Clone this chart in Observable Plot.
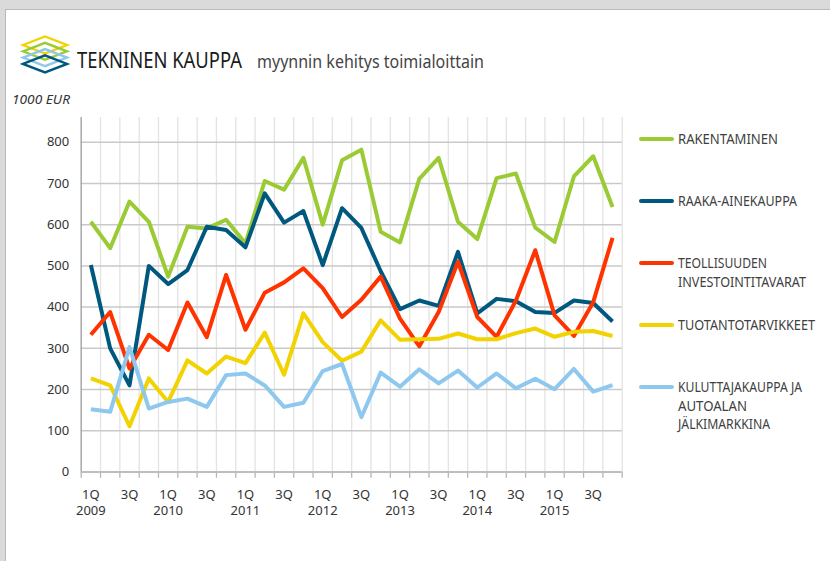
<!DOCTYPE html>
<html><head><meta charset="utf-8">
<script src="https://cdn.jsdelivr.net/npm/d3@7"></script>
<script src="https://cdn.jsdelivr.net/npm/@observablehq/plot@0.6"></script>
<style>
html,body{margin:0;padding:0;}
body{width:830px;height:561px;background:#dadada;position:relative;overflow:hidden;font-family:"Noto Sans",sans-serif;}
#panel{position:absolute;left:5px;top:9px;width:830px;height:560px;background:#fff;border:1px solid #b8b8b8;box-sizing:border-box;}
#chart{position:absolute;left:0;top:0;}
#overlay{position:absolute;left:0;top:0;}
</style></head><body>
<div id="panel"></div>
<div id="chart"></div>
<svg id="overlay" width="830" height="561" xmlns="http://www.w3.org/2000/svg"></svg>
<script>
// ---- data ----
const years = [2009, 2010, 2011, 2012, 2013, 2014, 2015];
const quarterNames = ["1Q", "2Q", "3Q", "4Q"];
const seriesNames = ["RAKENTAMINEN", "RAAKA-AINEKAUPPA", "TEOLLISUUDEN INVESTOINTITAVARAT", "TUOTANTOTARVIKKEET", "KULUTTAJAKAUPPA JA AUTOALAN JÄLKIMARKKINA"];
const legendLines = [["RAKENTAMINEN"], ["RAAKA-AINEKAUPPA"], ["TEOLLISUUDEN", "INVESTOINTITAVARAT"], ["TUOTANTOTARVIKKEET"], ["KULUTTAJAKAUPPA JA", "AUTOALAN", "JÄLKIMARKKINA"]];
const seriesColors = ["#9bcb34", "#00587f", "#ff3300", "#f2d200", "#8ec8ee"];
const rakentaminen = [607, 543, 656, 607, 474, 595, 591, 612, 555, 706, 685, 762, 600, 756, 782, 583, 557, 711, 762, 607, 565, 713, 724, 593, 558, 717, 766, 643];
const raakaAinekauppa = [502, 300, 210, 500, 456, 490, 595, 587, 545, 676, 605, 633, 502, 640, 592, 487, 395, 416, 403, 534, 385, 420, 414, 388, 386, 416, 410, 365];
const teollisuudenInvestointitavarat = [333, 388, 251, 333, 296, 411, 327, 478, 345, 435, 460, 494, 446, 376, 418, 474, 372, 305, 388, 510, 376, 328, 416, 538, 380, 330, 412, 568];
const tuotantotarvikkeet = [227, 210, 111, 227, 170, 271, 239, 280, 264, 338, 236, 385, 315, 270, 292, 368, 321, 322, 323, 336, 322, 322, 337, 348, 328, 340, 342, 330];
const kuluttajakauppa = [152, 146, 303, 154, 170, 178, 158, 235, 239, 210, 158, 168, 245, 262, 133, 241, 207, 249, 215, 246, 205, 239, 203, 226, 201, 250, 195, 211];
const yTicks = [0, 100, 200, 300, 400, 500, 600, 700, 800];
const yUnit = "1000 EUR";
const titleMain = "TEKNINEN KAUPPA";
const titleSub = "myynnin kehitys toimialoittain";

// ---- build table ----
const allSeries = [rakentaminen, raakaAinekauppa, teollisuudenInvestointitavarat, tuotantotarvikkeet, kuluttajakauppa];
const quarters = years.flatMap(y => quarterNames.map(q => ({year: y, q})));
const rows = [];
allSeries.forEach((vals, s) => vals.forEach((v, i) => rows.push({i, series: seriesNames[s], value: v})));
const xLabels = quarters.map((d, i) => ({i, label: d.q === "1Q" ? `${d.q}\n${d.year}` : d.q === "3Q" ? d.q : null})).filter(d => d.label);
const boundaries = d3.range(quarters.length + 1).map(k => k - 0.5);

const fontFam = "'Noto Sans', sans-serif";
const chart = Plot.plot({
  width: 830, height: 561,
  marginLeft: 80.7, marginRight: 208.3, marginTop: 117, marginBottom: 89.5,
  style: {fontFamily: fontFam, fontSize: "13px", background: "transparent", color: "#333"},
  x: {type: "linear", domain: [-0.5, quarters.length - 0.5], axis: null},
  y: {domain: [0, 860], axis: null},
  color: {domain: seriesNames, range: seriesColors},
  marks: [
    Plot.ruleX(boundaries.slice(1), {x: d => d, y1: 0, y2: 860, stroke: "#e3e3e3", strokeWidth: 1.3}),
    Plot.ruleY(yTicks.slice(1), {y: d => d, stroke: "#c9c9c9", strokeWidth: 1.5}),
    Plot.ruleX(boundaries, {x: d => d, y1: 0, y2: -15, stroke: "#b5b5b5", strokeWidth: 1.3}),
    Plot.ruleX([boundaries[0]], {x: d => d, y1: 0, y2: 860, stroke: "#a8a8a8", strokeWidth: 1.5}),
    Plot.ruleY([0], {y: d => d, stroke: "#bdbdbd", strokeWidth: 2}),
    Plot.line(rows, {x: "i", y: "value", z: "series", stroke: "series", strokeWidth: 4, strokeLinejoin: "round", strokeLinecap: "butt"}),
    Plot.axisY({ticks: yTicks, tickSize: 0, tickPadding: 12, label: null, fill: "#333", fontSize: 13}),
    Plot.text(xLabels, {x: "i", frameAnchor: "bottom", text: "label", dy: 15, lineAnchor: "top", lineHeight: 1.25, fontSize: 13, fill: "#333"})
  ]
});
document.getElementById("chart").appendChild(chart);

// ---- header, unit label, legend ----
const ov = d3.select("#overlay");
const logoColors = ["#f2d200", "#9bcb34", "#8ec8ee", "#00587f"];
logoColors.forEach((c, k) => {
  const cy = 45 + k * 6.3, hw = 22, hh = 8.5, cx = 45;
  ov.append("polygon")
    .attr("points", `${cx - hw},${cy} ${cx},${cy - hh} ${cx + hw},${cy} ${cx},${cy + hh}`)
    .attr("fill", "none").attr("stroke", c).attr("stroke-width", 2.4).attr("stroke-linejoin", "miter");
});
ov.append("text").attr("x", 77).attr("y", 68).attr("font-family", fontFam).attr("font-size", 21)
  .attr("fill", "#1a1a1a").attr("textLength", 165).attr("lengthAdjust", "spacingAndGlyphs").text(titleMain);
ov.append("text").attr("x", 257).attr("y", 68).attr("font-family", fontFam).attr("font-size", 18)
  .attr("fill", "#444").attr("textLength", 227).attr("lengthAdjust", "spacingAndGlyphs").text(titleSub);
ov.append("text").attr("x", 12).attr("y", 104).attr("font-family", fontFam).attr("font-size", 12.5)
  .attr("font-style", "italic").attr("fill", "#333").attr("textLength", 58).attr("lengthAdjust", "spacingAndGlyphs").text(yUnit);

const legendY = [139, 201, 263, 325, 387];
const lineStep = 18.5;
const approxWidth = {"RAKENTAMINEN": 100, "RAAKA-AINEKAUPPA": 119, "TEOLLISUUDEN": 89, "INVESTOINTITAVARAT": 128, "TUOTANTOTARVIKKEET": 137, "KULUTTAJAKAUPPA JA": 124, "AUTOALAN": 69, "JÄLKIMARKKINA": 92};
legendLines.forEach((lines, s) => {
  const y0 = legendY[s];
  ov.append("line").attr("x1", 641).attr("x2", 672).attr("y1", y0).attr("y2", y0)
    .attr("stroke", seriesColors[s]).attr("stroke-width", 4).attr("stroke-linecap", "round");
  lines.forEach((t, j) => {
    ov.append("text").attr("x", 678).attr("y", y0 + 5 + j * lineStep).attr("font-family", fontFam)
      .attr("font-size", 14).attr("fill", "#404040")
      .attr("textLength", approxWidth[t]).attr("lengthAdjust", "spacingAndGlyphs").text(t);
  });
});
</script>
</body></html>
